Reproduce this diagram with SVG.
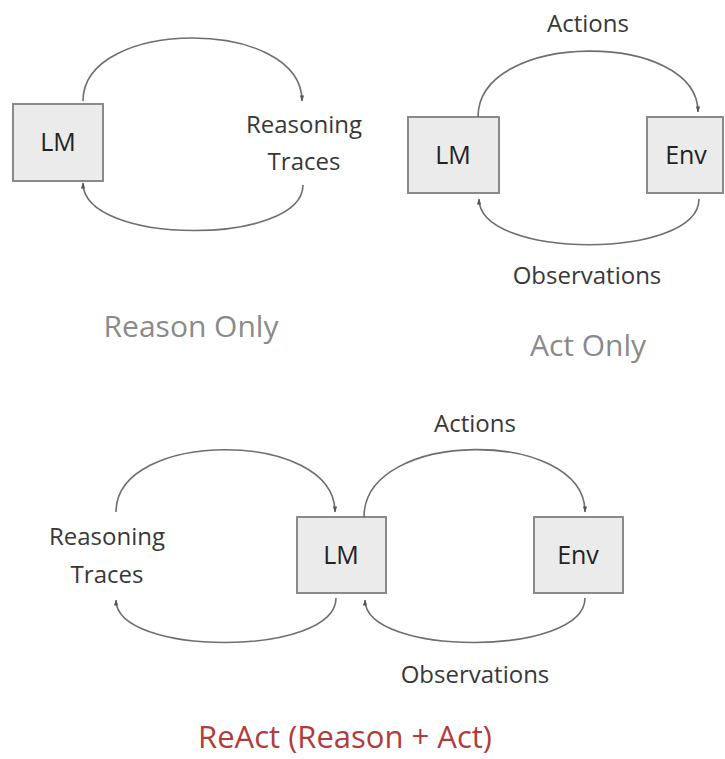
<svg xmlns="http://www.w3.org/2000/svg" width="725" height="759" viewBox="0 0 725 759">
  <style>
    .box { fill: #ebebeb; stroke: #8a8a8a; stroke-width: 2; }
    .lbl { font-family: "Open Sans", "Liberation Sans", sans-serif; font-size: 24px; fill: #383838; text-anchor: middle; }
    .node { font-family: "Open Sans", "Liberation Sans", sans-serif; font-size: 25px; fill: #222; text-anchor: middle; }
    .cap { font-family: "Open Sans", "Liberation Sans", sans-serif; font-size: 30px; fill: #8a8a8a; text-anchor: middle; }
    .red { font-family: "Open Sans", "Liberation Sans", sans-serif; font-size: 31px; fill: #b23b3b; text-anchor: middle; }
    .arc { fill: none; stroke: #6e6e6e; stroke-width: 1.6; marker-end: url(#head); }
  </style>
  <defs>
    <marker id="head" viewBox="0 0 10 10" refX="9" refY="5" markerWidth="7" markerHeight="6" orient="auto" markerUnits="userSpaceOnUse">
      <path d="M0,1.5 L10,5 L0,8.5 z" fill="#555"/>
    </marker>
  </defs>
  <rect width="725" height="759" fill="#fff"/>

  <!-- Reason only -->
  <g id="ro-lm"><rect class="box" x="13" y="104" width="90" height="77"/><text class="node" x="58" y="151">LM</text></g>
  <g id="ro-traces"><text class="lbl" x="304" y="133">Reasoning</text><text class="lbl" x="304" y="170">Traces</text></g>
  <text class="cap" x="191" y="337">Reason Only</text>

  <!-- Act only -->
  <g id="ao-lm"><rect class="box" x="408" y="117" width="91" height="76"/><text class="node" x="453" y="164">LM</text></g>
  <g id="ao-env"><rect class="box" x="647" y="117" width="76" height="76"/><text class="node" x="686" y="164">Env</text></g>
  <text class="lbl" x="588" y="32">Actions</text>
  <text class="lbl" x="587" y="284">Observations</text>
  <text class="cap" x="588" y="356">Act Only</text>

  <!-- ReAct -->
  <g id="ra-traces"><text class="lbl" x="107" y="545">Reasoning</text><text class="lbl" x="107" y="583">Traces</text></g>
  <g id="ra-lm"><rect class="box" x="297" y="517" width="89" height="76"/><text class="node" x="341" y="564">LM</text></g>
  <g id="ra-env"><rect class="box" x="534" y="517" width="89" height="76"/><text class="node" x="578" y="564">Env</text></g>
  <text class="lbl" x="475" y="432">Actions</text>
  <text class="lbl" x="475" y="683">Observations</text>
  <text class="red" x="345" y="748">ReAct (Reason + Act)</text>

  <g id="connectors">
    <path class="arc" d="M83,101 C83,17 302,17 302,101"/>
    <path class="arc" d="M303,185 C303,246 83,246 83,183"/>
    <path class="arc" d="M478,117 C478,30 698,30 698,112"/>
    <path class="arc" d="M699,199 C699,260 479,260 479,199"/>
    <path class="arc" d="M116,512 C116,429 335,429 335,512"/>
    <path class="arc" d="M336,598 C336,657 116,657 116,600"/>
    <path class="arc" d="M364,517 C364,428 585,428 585,512"/>
    <path class="arc" d="M585,598 C585,657 365,657 365,600"/>
  </g>
</svg>
